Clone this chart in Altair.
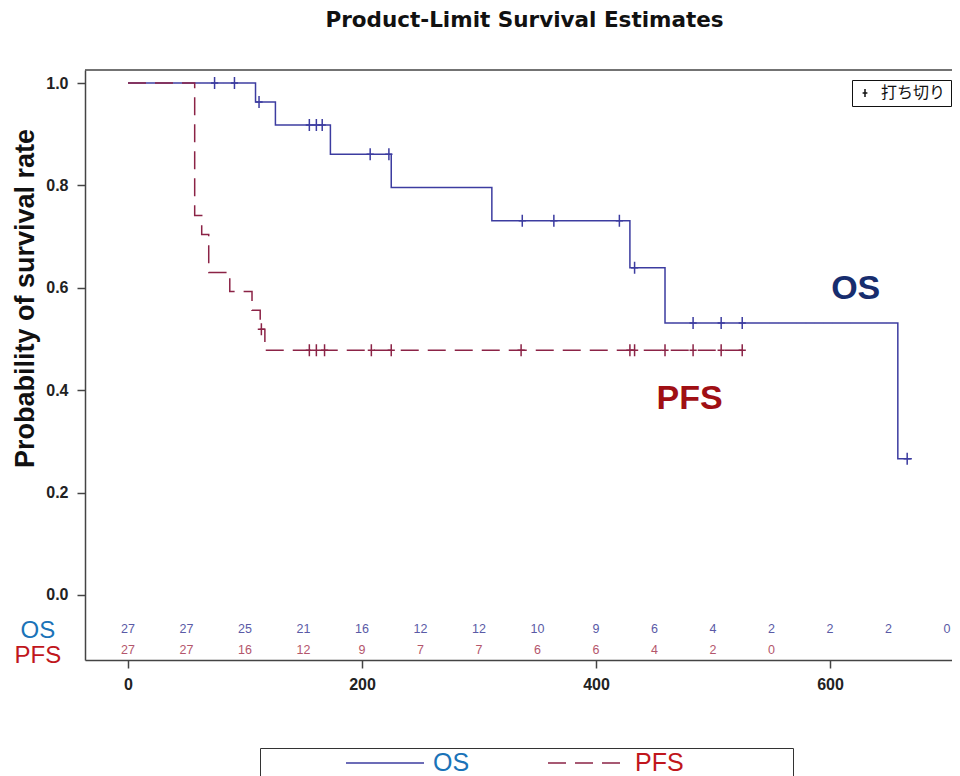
import altair as alt
import pandas as pd

# ---------------- data ----------------
series_names = ["OS", "PFS"]

os_times = [0, 109, 126, 173, 225, 311, 429, 459, 658, 670]
os_surv = [1.0, 0.963, 0.918, 0.861, 0.796, 0.731, 0.639, 0.531, 0.266, 0.266]

pfs_times = [0, 57, 63, 69, 87, 106, 113, 117, 530]
pfs_surv = [1.0, 0.741, 0.704, 0.630, 0.593, 0.556, 0.519, 0.478, 0.478]

os_censor = [74, 91, 112, 155, 161, 166, 207, 223, 337, 364, 420, 433, 483, 507, 525, 666]
pfs_censor = [114, 155, 161, 168, 208, 225, 336, 429, 433, 459, 483, 507, 525]

os_risk_times = [0, 50, 100, 150, 200, 250, 300, 350, 400, 450, 500, 550, 600, 650, 700]
os_at_risk = [27, 27, 25, 21, 16, 12, 12, 10, 9, 6, 4, 2, 2, 2, 0]
pfs_risk_times = [0, 50, 100, 150, 200, 250, 300, 350, 400, 450, 500, 550]
pfs_at_risk = [27, 27, 16, 12, 9, 7, 7, 6, 6, 4, 2, 0]

x_ticks = [0, 200, 400, 600]
y_ticks = [0.0, 0.2, 0.4, 0.6, 0.8, 1.0]
censor_label = "打ち切り"

# ---------------- styles / layout ----------------
OS_LINE = "#3c3ca0"
PFS_LINE = "#8b2346"
OS_TEXT = "#1a73b8"
PFS_TEXT = "#c0161c"
OS_NUM = "#5a5aa6"
PFS_NUM = "#b4566c"
AXIS_C = "#444444"
FONT = "Liberation Sans"

XMIN, XMAX = -36.75, 704.3
YMIN, YMAX = -0.127, 1.0254
ROW_OS, ROW_PFS = -0.0664, -0.1074
LEFT_LABEL_X = -77
LEFT_OS_Y, LEFT_PFS_Y = -0.070, -0.119

PLUS = "M0,-1L0,1M-0.6,0L0.6,0"


def step_value(times, surv, t):
    v = surv[0]
    for tt, s in zip(times, surv):
        if tt <= t:
            v = s
    return v


curve_df = pd.concat([
    pd.DataFrame({"time": os_times, "surv": os_surv, "series": "OS"}),
    pd.DataFrame({"time": pfs_times, "surv": pfs_surv, "series": "PFS"}),
])
censor_df = pd.concat([
    pd.DataFrame({"time": os_censor,
                  "surv": [step_value(os_times, os_surv, t) for t in os_censor],
                  "series": "OS"}),
    pd.DataFrame({"time": pfs_censor,
                  "surv": [step_value(pfs_times, pfs_surv, t) for t in pfs_censor],
                  "series": "PFS"}),
])
censor_df["mark"] = censor_label

os_risk_df = pd.DataFrame({"time": os_risk_times, "n": os_at_risk})
pfs_risk_df = pd.DataFrame({"time": pfs_risk_times, "n": pfs_at_risk})
one_row = pd.DataFrame({"k": [0]})
frame_df = pd.DataFrame({"frame": ["box"]})

xs = alt.Scale(domain=[XMIN, XMAX], nice=False, zero=False)
ys = alt.Scale(domain=[YMIN, YMAX], nice=False, zero=False)

line_legend = alt.Legend(
    orient="none", legendX=260, legendY=679, direction="horizontal",
    title=None, padding=0, symbolType="stroke", symbolSize=6084,
    symbolStrokeWidth=1.5, clipHeight=28, labelFontSize=25, labelFont=FONT,
    labelOffset=8, columnPadding=77, labelLimit=400,
    labelColor={"expr": "datum.value == 'OS' ? '%s' : '%s'" % (OS_TEXT, PFS_TEXT)},
)

# empty legend that only supplies the wide frame around the line legend
frame_legend = alt.Legend(
    orient="none", legendX=175, legendY=678, title=None, padding=0,
    strokeColor="#333333", symbolType="stroke", symbolSize=533 * 533,
    symbolStrokeWidth=0, symbolOpacity=0, clipHeight=44, labelOffset=0,
    labelExpr="''", labelFontSize=1,
)

censor_legend = alt.Legend(
    orient="none", legendX=767, legendY=10, title=None, strokeColor="#111111",
    padding=5, symbolSize=64, symbolStrokeColor="#111111", symbolFillColor="transparent",
    symbolStrokeWidth=1.5, labelFont="Noto Sans CJK JP", labelFontSize=16,
    labelOffset=8, labelColor="#111111",
)

top_rule = alt.Chart(frame_df).mark_rule(color=AXIS_C, strokeWidth=1.5).encode(
    x=alt.datum(XMIN, scale=xs), x2=alt.datum(XMAX), y=alt.datum(YMAX, scale=ys),
    opacity=alt.Opacity("frame:O", scale=alt.Scale(domain=["box"], range=[1]), legend=frame_legend),
)

lines = alt.Chart(curve_df).mark_line(interpolate="step-after", strokeWidth=1.5).encode(
    x=alt.X("time:Q", scale=xs, axis=alt.Axis(values=x_ticks, title=None, labelPadding=8)),
    y=alt.Y("surv:Q", scale=ys,
            axis=alt.Axis(values=y_ticks, format=".1f", title="Probability of survival rate",
                          titleX=-60, titleY=228, titleAlign="center", titleBaseline="middle",
                          titleAngle=270, labelPadding=9)),
    color=alt.Color("series:N", scale=alt.Scale(domain=series_names, range=[OS_LINE, PFS_LINE]),
                    legend=line_legend),
    strokeDash=alt.StrokeDash("series:N", scale=alt.Scale(domain=series_names, range=[[1, 0], [18, 9]]),
                              legend=line_legend),
)

censor = alt.Chart(censor_df).mark_point(filled=False, strokeWidth=1.5, opacity=1, size=144).encode(
    x=alt.X("time:Q", scale=xs),
    y=alt.Y("surv:Q", scale=ys),
    shape=alt.Shape("mark:N", scale=alt.Scale(domain=[censor_label], range=[PLUS]), legend=censor_legend),
    stroke=alt.Stroke("series:N", scale=alt.Scale(domain=series_names, range=[OS_LINE, PFS_LINE]), legend=None),
)

risk_os = alt.Chart(os_risk_df).mark_text(font=FONT, fontSize=12.5, color=OS_NUM).encode(
    x=alt.X("time:Q", scale=xs), y=alt.datum(ROW_OS), text="n:Q"
)
risk_pfs = alt.Chart(pfs_risk_df).mark_text(font=FONT, fontSize=12.5, color=PFS_NUM).encode(
    x=alt.X("time:Q", scale=xs), y=alt.datum(ROW_PFS), text="n:Q"
)

left_os = alt.Chart(one_row).mark_text(text="OS", font=FONT, fontSize=24, color=OS_TEXT).encode(
    x=alt.datum(LEFT_LABEL_X), y=alt.datum(LEFT_OS_Y)
)
left_pfs = alt.Chart(one_row).mark_text(text="PFS", font=FONT, fontSize=24, color=PFS_TEXT).encode(
    x=alt.datum(LEFT_LABEL_X), y=alt.datum(LEFT_PFS_Y)
)

big_os = alt.Chart(one_row).mark_text(text="OS", font=FONT, fontSize=34, fontWeight="bold",
                                      color="#172d6e").encode(
    x=alt.datum(622), y=alt.datum(0.598)
)
big_pfs = alt.Chart(one_row).mark_text(text="PFS", font=FONT, fontSize=34, fontWeight="bold",
                                       color="#a00f14").encode(
    x=alt.datum(480), y=alt.datum(0.383)
)

chart = alt.layer(
    top_rule, lines, censor, risk_os, risk_pfs, left_os, left_pfs, big_os, big_pfs
).properties(
    width=867, height=590,
    title=alt.Title("Product-Limit Survival Estimates", font="DejaVu Sans", fontSize=21.5,
                    fontWeight="bold", offset=38, anchor="middle", dx=6, color="#111111"),
    autosize=alt.AutoSizeParams(type="none"),
    padding={"left": 77, "top": 62, "right": 0, "bottom": 116},
).configure_view(
    stroke=None
).configure_axis(
    grid=False, domainColor=AXIS_C, domainWidth=1.5, tickColor=AXIS_C, tickWidth=1.5,
    tickSize=8, labelFont=FONT, labelFontSize=16, labelFontWeight="bold", labelColor="#222222",
    titleFont=FONT, titleFontSize=27, titleFontWeight="bold", titleColor="#111111",
)

chart.save("out.html", embed_options={"renderer": "svg", "actions": False})
